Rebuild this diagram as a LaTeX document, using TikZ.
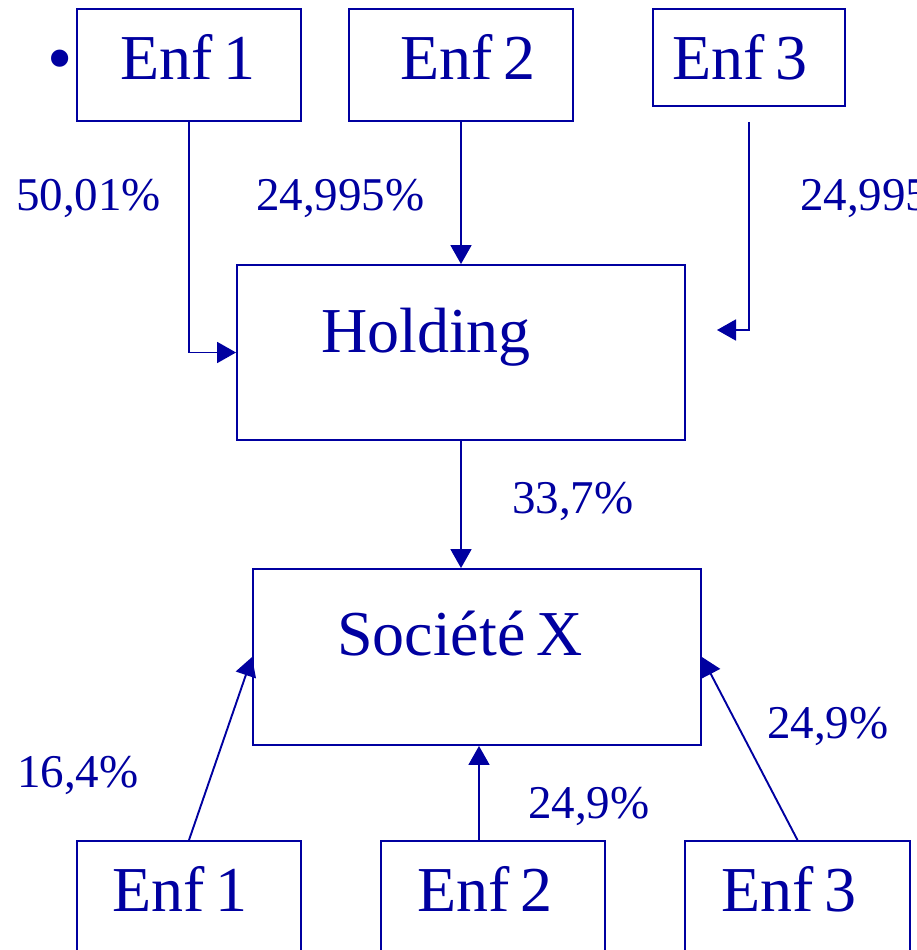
\documentclass[tikz,border=0pt]{standalone}
\usepackage{fontspec}
\setmainfont{Liberation Serif}
\usetikzlibrary{arrows.meta}
\definecolor{navy}{RGB}{0,0,160}
\newcommand\bigfnt{\fontsize{64}{70}\selectfont\spaceskip 11pt\relax}
\begin{document}
\begin{tikzpicture}[x=1pt,y=-1pt,
  box/.style={draw=navy, line width=1.9pt, inner sep=0pt},
  big/.style={text=navy, font=\bigfnt, inner sep=0pt, anchor=base west},
  pct/.style={text=navy, font=\fontsize{47}{52}\selectfont, inner sep=0pt, anchor=base west},
  conn/.style={draw=navy, line width=1.9pt, -{Triangle[length=19pt,width=21pt]}}]
\useasboundingbox (0,0) rectangle (917,950);
\fill[white] (0,0) rectangle (917,950);
% boxes
\node[box, minimum width=224pt, minimum height=112pt] (e1t) at (189,65) {};
\node[box, minimum width=224pt, minimum height=112pt] (e2t) at (461,65) {};
\node[box, minimum width=192pt, minimum height=97pt] (e3t) at (749,57.5) {};
\node[box, minimum width=448pt, minimum height=175pt] (hold) at (461,352.5) {};
\node[box, minimum width=448pt, minimum height=176pt] (soc) at (477,657) {};
\node[box, minimum width=224pt, minimum height=140pt] (e1b) at (189,911) {};
\node[box, minimum width=224pt, minimum height=140pt] (e2b) at (493,911) {};
\node[box, minimum width=225pt, minimum height=140pt] (e3b) at (797.5,911) {};
% texts
\node[big, font=\fontsize{72}{76}\selectfont] (bul) at (47,82) {•};
\node[big] (t1t) at (120,80) {Enf 1};
\node[big] (t2t) at (400,80) {Enf 2};
\node[big] (t3t) at (672,80) {Enf 3};
\node[big] (th) at (321,352) {Holding};
\node[big] (ts) at (337,655) {Société X};
\node[big] (t1b) at (112,911) {Enf 1};
\node[big] (t2b) at (417,911) {Enf 2};
\node[big] (t3b) at (721,911) {Enf 3};
% percentages
\node[pct] (p1) at (16,210) {50,01\%};
\node[pct] (p2) at (256,210) {24,995\%};
\node[pct] (p3) at (800,210) {24,995\%};
\node[pct] (p4) at (512,513) {33,7\%};
\node[pct] (p5) at (17,787) {16,4\%};
\node[pct] (p6) at (528,818) {24,9\%};
\node[pct] (p7) at (767,738) {24,9\%};
% connectors
\coordinate (e3end) at (717,330);
\draw[conn] (e1t.south) |- (hold.west);
\draw[conn] (e2t.south) -- (hold.north);
\draw[conn] ([yshift=-15pt]e3t.south) |- (e3end);
\draw[conn] (hold.south) -- (hold.south |- soc.north);
\draw[conn] (e1b.north) -- (soc.west);
\draw[conn] ([xshift=-14pt]e2b.north) -- ([xshift=-14pt]e2b.north |- soc.south);
\draw[conn] (e3b.north) -- (soc.east);
\end{tikzpicture}
\end{document}
